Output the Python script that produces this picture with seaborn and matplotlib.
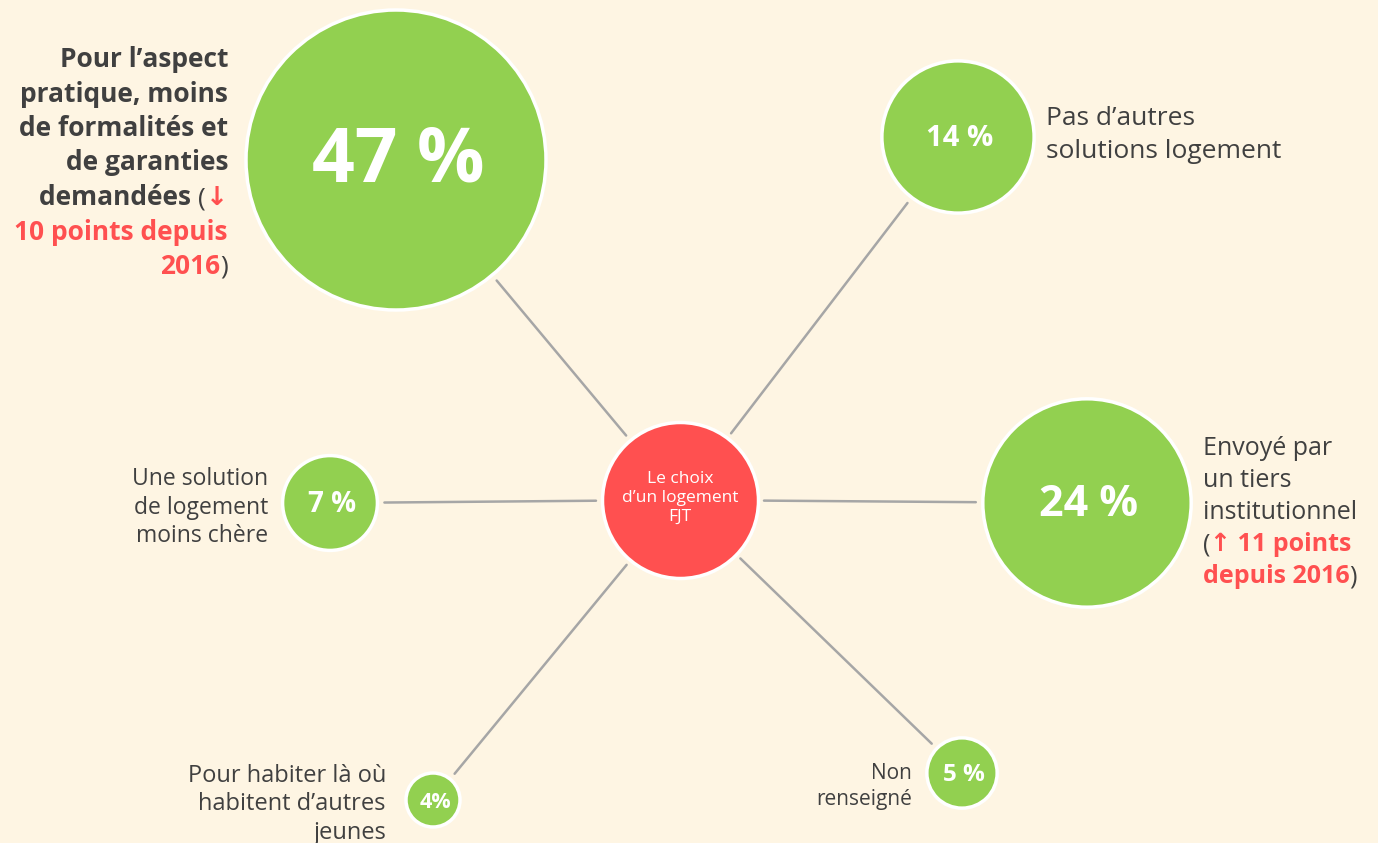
import matplotlib.pyplot as plt
import numpy as np
import pandas as pd
import seaborn as sns

# data
reasons = ['Pour l\u2019aspect pratique', 'Pas d\u2019autres solutions logement',
           'Envoy\u00e9 par un tiers institutionnel', 'Une solution de logement moins ch\u00e8re',
           'Pour habiter l\u00e0 o\u00f9 habitent d\u2019autres jeunes', 'Non renseign\u00e9']
values = [47, 14, 24, 7, 4, 5]
pct_labels = ['47 %', '14 %', '24 %', '7 %', '4%', '5 %']
center_label = 'Le choix\nd\u2019un logement\nFJT'

# layout (pixels, y going down)
center = (680, 500)
pos = [(396, 160), (958, 137), (1087, 503), (330, 503), (433, 800), (962, 773)]
pct_size = [54, 21, 31, 20, 15.5, 17.5]

BG = '#FEF5E3'
GREEN = '#92D050'
RED = '#FF5050'
DARK = '#404040'
GREY = '#A6A6A6'
FAM = ['Open Sans', 'DejaVu Sans']

sns.set_theme(style='white')
plt.rcParams['font.family'] = FAM

fig = plt.figure(figsize=(13.78, 8.43), dpi=100)
fig.patch.set_facecolor(BG)
ax = fig.add_axes([0, 0, 1, 1])
ax.set_facecolor(BG)
ax.set_xlim(0, 1378)
ax.set_ylim(843, 0)
ax.axis('off')

df = pd.DataFrame({'reason': reasons, 'value': values,
                   'x': [p[0] for p in pos], 'y': [p[1] for p in pos]})

# marker area (pt^2) is linear in the value
s_min, s_max = 1512, 46656
px = 100 / 72


def radius(v):
    s = s_min + (v - 4) / (47 - 4) * (s_max - s_min)
    return np.sqrt(s) * px / 2


# connecting lines
r_center = 78
for v, (x, y) in zip(values, pos):
    d = np.array([x - center[0], y - center[1]], dtype=float)
    u = d / np.linalg.norm(d)
    a = np.array(center) + u * (r_center + 6)
    b = np.array([x, y]) - u * (radius(v) + 7)
    ax.plot([a[0], b[0]], [a[1], b[1]], color=GREY, lw=1.8, zorder=1)

sns.scatterplot(data=df, x='x', y='y', size='value', sizes=(s_min, s_max), size_norm=(4, 47),
                color=GREEN, edgecolor='white', linewidth=2.5, legend=False, ax=ax, zorder=3)
ax.scatter([center[0]], [center[1]], s=(2 * r_center / px) ** 2, color=RED,
           edgecolor='white', linewidth=2.5, zorder=3)
ax.set_xlabel('')
ax.set_ylabel('')

for lab, (x, y), fs in zip(pct_labels, pos, pct_size):
    ax.text(x + 2, y + 2, lab, color='white', fontsize=fs, fontweight='bold',
            ha='center', va='center', zorder=4)
ax.text(center[0], center[1] - 2, center_label, color='white', fontsize=12.5,
        ha='center', va='center', linespacing=1.25, zorder=4)


def rich_line(x, y, parts, ha, fs):
    # parts: (text, color, weight) drawn side by side on one baseline
    seq = parts if ha == 'left' else parts[::-1]
    anchor = (1, 0) if ha == 'left' else (0, 0)
    t, c, w = seq[0]
    prev = ax.text(x, y, t, color=c, fontweight=w, fontsize=fs, ha=ha, va='baseline')
    for t, c, w in seq[1:]:
        prev = ax.annotate(t, xy=anchor, xycoords=prev, color=c, fontweight=w,
                           fontsize=fs, ha=ha, va='bottom')


def block(x, y0, step, lines, ha, fs):
    for i, parts in enumerate(lines):
        rich_line(x, y0 + i * step, parts, ha, fs)


B = 'bold'
N = 'normal'
block(228, 67, 34.5, [
    [('Pour l\u2019aspect', DARK, B)],
    [('pratique, moins', DARK, B)],
    [('de formalit\u00e9s et', DARK, B)],
    [('de garanties', DARK, B)],
    [('demand\u00e9es ', DARK, B), ('(', DARK, N), ('\u2193', RED, B)],
    [('10 points depuis', RED, B)],
    [('2016', RED, B), (')', DARK, N)],
], 'right', 19)

block(1046, 125, 33, [
    [('Pas d\u2019autres', DARK, N)],
    [('solutions logement', DARK, N)],
], 'left', 19)

block(1203, 455, 32, [
    [('Envoy\u00e9 par', DARK, N)],
    [('un tiers', DARK, N)],
    [('institutionnel', DARK, N)],
    [('(', DARK, N), ('\u2191 11 points', RED, B)],
    [('depuis 2016', RED, B), (')', DARK, N)],
], 'left', 18)

block(268, 485, 28.5, [
    [('Une solution', DARK, N)],
    [('de logement', DARK, N)],
    [('moins ch\u00e8re', DARK, N)],
], 'right', 16.5)

block(386, 782, 28.5, [
    [('Pour habiter l\u00e0 o\u00f9', DARK, N)],
    [('habitent d\u2019autres', DARK, N)],
    [('jeunes', DARK, N)],
], 'right', 17)

block(912, 779, 26, [
    [('Non', DARK, N)],
    [('renseign\u00e9', DARK, N)],
], 'right', 15)

plt.savefig('out.png', dpi=100, facecolor=BG)
